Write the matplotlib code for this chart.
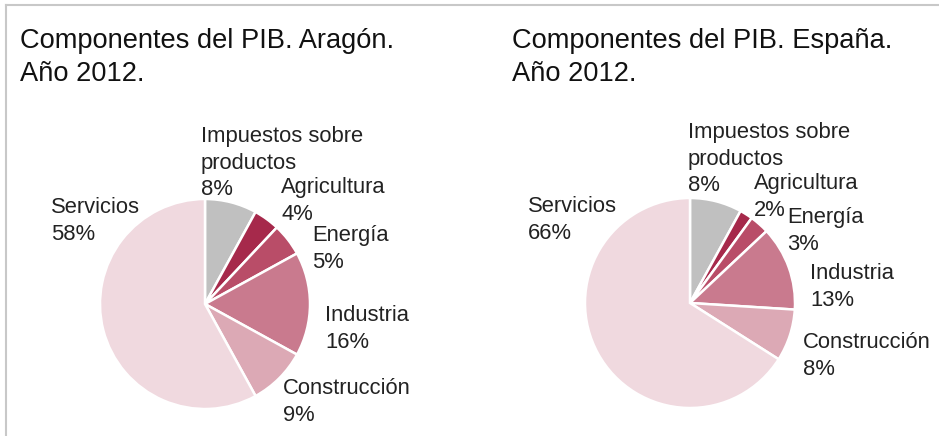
import matplotlib
matplotlib.use("Agg")
import matplotlib.pyplot as plt
from matplotlib.lines import Line2D

plt.rcParams['font.family'] = ['Liberation Sans', 'DejaVu Sans']

categorias = ["Impuestos sobre\nproductos", "Agricultura", "Energía", "Industria", "Construcción", "Servicios"]
aragon = [8, 4, 5, 16, 9, 58]
espana = [8, 2, 3, 13, 8, 66]
colores = ["#c0c0c0", "#a6294b", "#b94d68", "#c97a8e", "#dca9b5", "#f0d9df"]

titulos = ["Componentes del PIB. Aragón.\nAño 2012.", "Componentes del PIB. España.\nAño 2012."]

W, H = 939, 436
fig = plt.figure(figsize=(W / 100, H / 100), dpi=100)

# pixel helpers (origin top-left)
def fx(x):
    return x / W

def fy(y):
    return 1 - y / H

# frame lines
fig.add_artist(Line2D([fx(6), 1], [fy(5), fy(5)], color="#c8c8c8", lw=1.5))
fig.add_artist(Line2D([fx(6), fx(6)], [fy(5), 0], color="#c8c8c8", lw=1.5))

paneles = [
    dict(datos=aragon, centro=(205, 304), r=105, titulo=(20, 28),
         pos=[(201, 126), (281, 177), (312, 225), (325, 305), (283, 378), (51, 197)]),
    dict(datos=espana, centro=(690, 303), r=105, titulo=(512, 28),
         pos=[(688, 122), (754, 173), (787, 207), (810, 263), (803, 332), (528, 196)]),
]

paso = 26.5  # line step of the labels, px

for i, p in enumerate(paneles):
    cx, cy = p["centro"]
    r = p["r"]
    ax = fig.add_axes([fx(cx - r), fy(cy + r), 2 * r / W, 2 * r / H])
    ax.pie(p["datos"], colors=colores, startangle=90, counterclock=False,
           wedgeprops=dict(edgecolor="white", linewidth=1.8))
    ax.set_xlim(-1, 1)
    ax.set_ylim(-1, 1)
    ax.set_aspect("equal")
    ax.axis("off")

    tx, ty = p["titulo"]
    fig.text(fx(tx), fy(ty), titulos[i], fontsize=19.6, va="top", ha="left",
             color="#111111", linespacing=1.33)

    for cat, val, (lx, ly) in zip(categorias, p["datos"], p["pos"]):
        lineas = cat.split("\n") + [f"{val}%"]
        for j, txt in enumerate(lineas):
            fig.text(fx(lx), fy(ly + j * paso), txt, fontsize=15.8, va="top", ha="left",
                     color="#222222")

fig.savefig("out.png", dpi=100, facecolor="white")
